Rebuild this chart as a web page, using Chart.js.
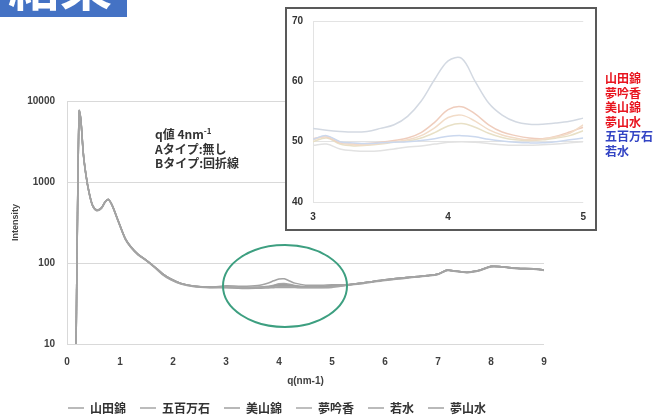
<!DOCTYPE html>
<html lang="ja">
<head>
<meta charset="utf-8">
<script src="https://cdn.jsdelivr.net/npm/chart.js@4.4.1/dist/chart.umd.min.js"></script>
<style>
  html, body { margin: 0; padding: 0; background: #fff; width: 654px; height: 417px; overflow: hidden; }
  body { position: relative; font-family: 'Noto Sans CJK JP', 'Liberation Sans', sans-serif; }
  #badge { position: absolute; left: 0; top: 0; width: 127px; height: 17px; background: #4472c4; overflow: hidden; }
  #badge span { position: absolute; left: 8px; top: -42px; font-size: 52px; line-height: 52px; font-weight: bold; color: #fff; }
  #main { position: absolute; left: 0; top: 88px; width: 556px; height: 336px; }
  #inset { position: absolute; left: 285px; top: 7px; width: 308px; height: 220px; border: 2px solid #595959; background: #fff; }
  #note { position: absolute; left: 155px; top: 127px; font-size: 12px; line-height: 14.5px; font-weight: bold; color: #333; }
  #kinds { position: absolute; left: 605px; top: 71px; font-size: 12px; line-height: 14.5px; font-weight: bold; white-space: nowrap; }
  #kinds .b { color: #e8141e; }
  #kinds .a { color: #3344c4; }
  svg { position: absolute; left: 0; top: 0; }
</style>
</head>
<body>
<div id="badge"><span>結果</span></div>
<div id="main"><canvas id="mainChart"></canvas></div>
<div id="note">q値 4nm<sup style="font-size:8px;line-height:0">-1</sup><br>Aタイプ:無し<br>Bタイプ:回折線</div>
<svg width="654" height="417"><ellipse cx="285" cy="286" rx="62" ry="41" fill="none" stroke="#3d9f80" stroke-width="2"/></svg>
<div id="inset"><canvas id="insetChart"></canvas></div>
<div id="kinds">
  <div class="b">山田錦</div><div class="b">夢吟香</div><div class="b">美山錦</div><div class="b">夢山水</div>
  <div class="a">五百万石</div><div class="a">若水</div>
</div>
<script>
// series names, legend order
const names = ['山田錦', '五百万石', '美山錦', '夢吟香', '若水', '夢山水'];

// main chart: q (nm-1) and intensity per sample
const mainQ = [0.17, 0.2, 0.23, 0.26, 0.31, 0.36, 0.41, 0.48, 0.56, 0.65,
  0.72, 0.78, 0.85, 0.96, 1.1, 1.2, 1.34, 1.5, 1.65, 1.8,
  1.95, 2.15, 2.4, 2.7, 3.0, 3.3, 3.6, 3.8, 3.9, 4.0,
  4.1, 4.2, 4.3, 4.5, 4.8, 5.0, 5.3, 5.6, 6.0, 6.4,
  6.8, 7.0, 7.17, 7.3, 7.55, 7.8, 8.0, 8.2, 8.5, 8.8, 9.0];
const yamadaMain = [8, 500, 7500, 6000, 2200, 1200, 780, 520, 450, 480,
  570, 610, 520, 340, 200, 160, 128, 108, 90, 74,
  64, 56, 52, 50.5, 52.2, 51.6, 52.8, 56.7, 60.3, 63.4,
  63.8, 60, 56.4, 53.3, 53.1, 53.9, 54, 57, 62, 66,
  70, 73, 82, 80, 77, 82, 91, 90, 86, 85, 82];
const gohyakuMain = [8, 480, 7300, 5900, 2150, 1180, 770, 515, 445, 475,
  565, 605, 515, 335, 198, 158, 127, 107, 89, 73,
  63, 55.5, 51.5, 50, 50.4, 49.8, 49.9, 50.2, 50.5, 50.9,
  51, 50.8, 50.4, 49.9, 50, 50.6, 53.5, 56.5, 61.5, 65.5,
  69.5, 72.5, 81, 79.5, 76.5, 81.5, 90, 89.5, 85.5, 84.5, 81.5];
const miyamaMain = [8, 510, 7600, 6050, 2220, 1210, 785, 522, 452, 482,
  572, 612, 522, 342, 201, 161, 129, 108, 90, 74,
  64, 56, 51.8, 50.3, 50.3, 49.5, 50, 51, 52.3, 54,
  54.4, 53.4, 52, 50.6, 50.8, 52.8, 54, 57, 62, 66,
  70, 73, 82, 80, 77, 82, 91, 90, 86, 85, 82];
const yumeginkaMain = [8, 490, 7400, 5950, 2180, 1190, 775, 518, 448, 478,
  568, 608, 518, 338, 199, 159, 128, 108, 90, 74,
  64, 56, 51.8, 50.4, 50.5, 49.6, 50.2, 51.5, 53.2, 55.3,
  55.8, 54.6, 52.8, 51, 50.9, 52.4, 54, 57, 62, 66,
  70, 73, 82, 80, 77, 82, 91, 90, 86, 85, 82];
const wakamizuMain = [8, 470, 7200, 5850, 2120, 1170, 765, 512, 442, 472,
  562, 602, 512, 332, 196, 157, 126, 106, 88, 72,
  62.5, 55, 51, 49.6, 49.4, 48.5, 48.8, 49.3, 49.6, 49.9,
  50, 49.9, 49.7, 49.4, 49.6, 50, 53, 56, 61, 65,
  69, 72, 80.5, 79, 76, 81, 89.5, 89, 85, 84, 81];
const yumesansuiMain = [8, 505, 7550, 6020, 2200, 1205, 782, 521, 451, 481,
  571, 611, 521, 341, 200, 160, 128, 108, 90, 74,
  64, 56, 51.6, 50.2, 50, 49.3, 49.9, 50.6, 51.5, 52.6,
  53, 52.4, 51.4, 50.3, 50.6, 51.8, 54, 57, 62, 66,
  70, 73, 82, 80, 77, 82, 91, 90, 86, 85, 82];
const mainYTicks = [10, 100, 1000, 10000];

// inset: zoom of q = 3..5
const insetQ = [3.0, 3.1, 3.2, 3.3, 3.4, 3.5, 3.6, 3.7, 3.8, 3.9, 4.0,
  4.1, 4.2, 4.3, 4.4, 4.5, 4.6, 4.7, 4.8, 4.9, 5.0];
const yamadaInset = [52.2, 51.9, 51.7, 51.6, 51.7, 52.2, 52.8, 54.2, 56.7, 60.3, 63.4,
  63.8, 60.0, 56.4, 54.4, 53.3, 52.9, 52.9, 53.1, 53.4, 53.9];
const gohyakuInset = [50.4, 51.0, 50.0, 49.8, 49.7, 49.8, 49.9, 50.0, 50.2, 50.5, 50.9,
  51.0, 50.8, 50.4, 50.1, 49.9, 49.8, 49.8, 50.0, 50.3, 50.6];
const miyamaInset = [50.3, 50.9, 49.9, 49.5, 49.5, 49.7, 50.0, 50.3, 51.0, 52.3, 54.0,
  54.4, 53.4, 52.0, 51.1, 50.6, 50.3, 50.4, 50.8, 51.4, 52.8];
const yumeginkaInset = [50.5, 50.8, 49.8, 49.6, 49.7, 49.9, 50.2, 50.6, 51.5, 53.2, 55.3,
  55.8, 54.6, 52.8, 51.6, 51.0, 50.6, 50.5, 50.9, 51.6, 52.4];
const wakamizuInset = [49.4, 49.6, 48.8, 48.5, 48.4, 48.5, 48.8, 49.1, 49.3, 49.6, 49.9,
  50.0, 49.9, 49.7, 49.5, 49.4, 49.4, 49.5, 49.6, 49.8, 50.0];
const yumesansuiInset = [50.0, 50.6, 49.6, 49.3, 49.4, 49.6, 49.9, 50.1, 50.6, 51.5, 52.6,
  53.0, 52.4, 51.4, 50.7, 50.3, 50.2, 50.3, 50.6, 51.0, 51.8];

const mainSeries = [yamadaMain, gohyakuMain, miyamaMain, yumeginkaMain, wakamizuMain, yumesansuiMain];
const insetSeries = [yamadaInset, gohyakuInset, miyamaInset, yumeginkaInset, wakamizuInset, yumesansuiInset];
const mainColors = ['#a3a3a3', '#a6a6a6', '#a0a0a0', '#a8a8a8', '#a5a5a5', '#a2a2a2'];
const insetColors = ['#d3d9e2', '#cbd8ee', '#f2dcc8', '#efcdbd', '#e2e2e2', '#e8e0c6'];

const numFont = "'Liberation Sans', 'Noto Sans CJK JP', sans-serif";
const toPoints = (xs, ys) => xs.map((x, i) => ({ x: x, y: ys[i] }));

new Chart(document.getElementById('mainChart'), {
  type: 'line',
  data: {
    datasets: names.map((name, i) => ({
      label: name,
      data: toPoints(mainQ, mainSeries[i]),
      borderColor: mainColors[i],
      backgroundColor: mainColors[i],
      borderWidth: 1.5,
      pointRadius: 0,
      tension: 0.3,
    })),
  },
  options: {
    responsive: true,
    maintainAspectRatio: false,
    animation: false,
    layout: { padding: { top: 13, left: 10, right: 12, bottom: 0 } },
    plugins: {
      tooltip: { enabled: false },
      legend: {
        position: 'bottom',
        labels: {
          usePointStyle: true,
          pointStyle: 'line',
          pointStyleWidth: 16,
          padding: 14,
          color: '#333',
          font: { family: "'Noto Sans CJK JP', sans-serif", size: 12, weight: 'bold' },
        },
      },
    },
    scales: {
      x: {
        type: 'linear',
        min: 0,
        max: 9,
        afterFit: (scale) => { scale.paddingRight = 0; },
        ticks: { stepSize: 1, padding: 12, color: '#404040', font: { family: numFont, size: 10, weight: 'bold' } },
        grid: { display: false, drawTicks: false },
        border: { display: false },
        title: { display: true, text: 'q(nm-1)', color: '#404040', padding: { top: -5, bottom: 1 },
          font: { family: numFont, size: 10, weight: 'bold' } },
      },
      y: {
        type: 'logarithmic',
        min: 10,
        max: 10000,
        afterBuildTicks: (axis) => { axis.ticks = mainYTicks.map(v => ({ value: v })); },
        afterFit: (scale) => { scale.width = 57; scale.paddingTop = 0; },
        ticks: { padding: 12, color: '#404040', callback: (v) => String(v),
          font: { family: numFont, size: 10, weight: 'bold' } },
        grid: { color: '#d9d9d9', drawTicks: false },
        border: { display: true, color: '#d9d9d9' },
        title: { display: true, text: 'Intensity', color: '#404040', padding: { top: 0, bottom: 4 },
          font: { family: numFont, size: 9, weight: 'bold' } },
      },
    },
  },
});

new Chart(document.getElementById('insetChart'), {
  type: 'line',
  data: {
    datasets: names.map((name, i) => ({
      label: name,
      data: toPoints(insetQ, insetSeries[i]),
      borderColor: insetColors[i],
      borderWidth: 1.5,
      pointRadius: 0,
      tension: 0.35,
    })),
  },
  options: {
    responsive: true,
    maintainAspectRatio: false,
    animation: false,
    layout: { padding: { top: 12, left: 5, right: 9, bottom: 0 } },
    plugins: { legend: { display: false }, tooltip: { enabled: false } },
    scales: {
      x: {
        type: 'linear',
        min: 3,
        max: 5,
        afterFit: (scale) => { scale.height = 27; },
        ticks: { stepSize: 1, padding: 9, color: '#333', font: { family: numFont, size: 10, weight: 'bold' } },
        grid: { display: false, drawTicks: false },
        border: { display: false },
      },
      y: {
        min: 40,
        max: 70,
        afterFit: (scale) => { scale.width = 21; scale.paddingTop = 0; },
        ticks: { stepSize: 10, padding: 10, color: '#333', font: { family: numFont, size: 10, weight: 'bold' } },
        grid: { color: '#e3e3e3', drawTicks: false },
        border: { display: true, color: '#e3e3e3' },
      },
    },
  },
});
</script>
</body>
</html>
